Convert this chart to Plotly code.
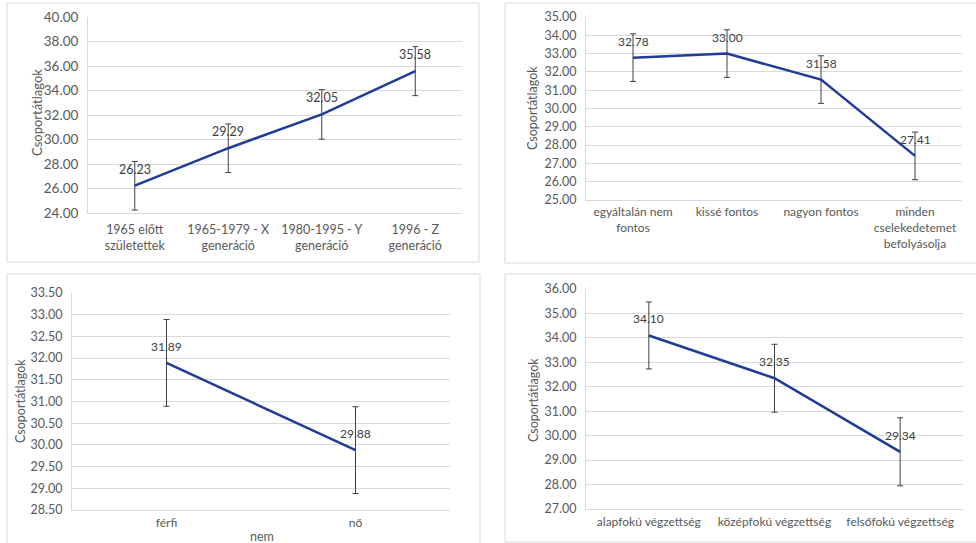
import plotly.graph_objects as go

W, H = 976, 543

# Group means (Csoportátlagok) with their error-bar half widths
gen_labels = ["1965 előtt<br>születettek", "1965-1979 - X<br>generáció",
              "1980-1995 - Y<br>generáció", "1996 - Z<br>generáció"]
gen_means = [26.23, 29.29, 32.05, 35.58]
gen_err = [1.98, 1.98, 2.02, 2.00]

imp_labels = ["egyáltalán nem<br>fontos", "kissé fontos", "nagyon fontos",
              "minden<br>cselekedetemet<br>befolyásolja"]
imp_means = [32.78, 33.00, 31.58, 27.41]
imp_err = [1.30, 1.30, 1.30, 1.30]

sex_labels = ["férfi", "nő"]
sex_means = [31.89, 29.88]
sex_err = [1.00, 1.00]

edu_labels = ["alapfokú végzettség", "középfokú végzettség", "felsőfokú végzettség"]
edu_means = [34.10, 32.35, 29.34]
edu_err = [1.37, 1.39, 1.39]

y_title = "Csoportátlagok"

LINE = "#1F3C98"
GRID = "#D9D9D9"
TXT = "#595959"
LBL = "#404040"
FONT = "Lato, Carlito, Calibri, sans-serif"

# plot-area boxes in pixels (left, top, right, bottom) plus per-panel styling
panels = [
    dict(cats=gen_labels, means=gen_means, err=gen_err, box=(88, 17, 462, 213),
         yr=(24, 40), dt=2, tfs=13.5, cfs=12.5, lfs=12.5, xlen=5, title_xy=(37, 113)),
    dict(cats=imp_labels, means=imp_means, err=imp_err, box=(586, 17, 962, 200),
         yr=(25, 35), dt=1, tfs=12.5, cfs=12, lfs=12, xlen=1, title_xy=(533, 108)),
    dict(cats=sex_labels, means=sex_means, err=sex_err, box=(72, 293, 450, 510),
         yr=(28.5, 33.5), dt=0.5, tfs=12.5, cfs=12, lfs=12, xlen=2, title_xy=(20, 401)),
    dict(cats=edu_labels, means=edu_means, err=edu_err, box=(586, 289, 963, 509),
         yr=(27, 36), dt=1, tfs=12.5, cfs=12, lfs=12, xlen=2, title_xy=(533, 400)),
]

# outer chart-area frames
frames = [(7, 3, 479, 262), (505, 3, 990, 263), (7, 274, 480, 560), (505, 274, 990, 542)]

fig = go.Figure()
annotations = []
shapes = []

for k, p in enumerate(panels):
    sfx = "" if k == 0 else str(k + 1)
    n = len(p["cats"])
    xs = list(range(n))
    fig.add_trace(go.Scatter(
        x=xs, y=p["means"], mode="lines",
        line=dict(color=LINE, width=2.5),
        error_y=dict(type="data", array=p["err"], visible=True,
                     color=LBL, thickness=1, width=3),
        xaxis="x" + sfx, yaxis="y" + sfx, showlegend=False, hoverinfo="skip",
    ))
    l, t, r, b = p["box"]
    fig.layout["xaxis" + sfx] = dict(
        domain=[l / W, r / W], anchor="y" + sfx, automargin=False,
        range=[-0.5, n - 0.5], tickmode="array", tickvals=xs, ticktext=p["cats"],
        showgrid=False, zeroline=False, showline=True, linecolor=GRID, linewidth=1,
        ticks="outside", ticklen=p["xlen"], tickcolor="rgba(0,0,0,0)",
        tickfont=dict(family=FONT, size=p["cfs"], color=TXT), fixedrange=True,
    )
    fig.layout["yaxis" + sfx] = dict(
        domain=[1 - b / H, 1 - t / H], anchor="x" + sfx, automargin=False,
        range=[p["yr"][0] - 1e-4, p["yr"][1] + 1e-4], dtick=p["dt"], tick0=p["yr"][0],
        tickformat=".2f", showgrid=True, gridcolor=GRID, gridwidth=1,
        zeroline=False, showline=True, linecolor=GRID, linewidth=1,
        ticks="outside", ticklen=6, tickcolor="rgba(0,0,0,0)",
        tickfont=dict(family=FONT, size=p["tfs"], color=TXT), fixedrange=True,
    )
    for i, v in enumerate(p["means"]):
        annotations.append(dict(
            x=i, y=v, xref="x" + sfx, yref="y" + sfx, text=f"{v:.2f}",
            showarrow=False, yshift=16.5, xanchor="center", yanchor="middle",
            font=dict(family=FONT, size=p["lfs"], color=LBL),
        ))
    tx, ty = p["title_xy"]
    annotations.append(dict(
        x=tx / W, y=1 - ty / H, xref="paper", yref="paper", text=y_title,
        textangle=-90, showarrow=False, xanchor="center", yanchor="middle",
        font=dict(family=FONT, size=p["cfs"] + 0.5, color=TXT),
    ))

annotations.append(dict(
    x=262 / W, y=1 - 536 / H, xref="paper", yref="paper", text="nem",
    showarrow=False, xanchor="center", yanchor="middle",
    font=dict(family=FONT, size=12.5, color=TXT),
))

for (l, t, r, b) in frames:
    shapes.append(dict(type="rect", xref="paper", yref="paper",
                       x0=l / W, x1=r / W, y0=1 - b / H, y1=1 - t / H,
                       line=dict(color=GRID, width=1), fillcolor="rgba(0,0,0,0)",
                       layer="below"))

fig.update_layout(
    width=W, height=H, margin=dict(l=0, r=0, t=0, b=0, pad=0, autoexpand=False),
    paper_bgcolor="white", plot_bgcolor="white",
    annotations=annotations, shapes=shapes,
    font=dict(family=FONT, color=TXT),
)

fig.write_html("out.html", config={"displayModeBar": False})
